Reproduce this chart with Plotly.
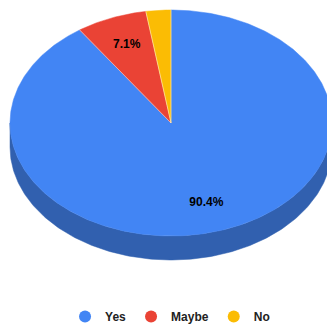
import numpy as np
import plotly.graph_objects as go

# ---- data ----
categories = ["Yes", "Maybe", "No"]
values = [90.4, 7.1, 2.5]
colors = ["#4285F4", "#EA4335", "#FBBC04"]
side_colors = ["#3160AF", "#A9302A", "#B58803"]

# ---- geometry of the 3D pie (pixel units) ----
W, H = 327, 324
cx, cy = 171, 123
rx, ry = 161, 113
depth = 24
label_k = 0.74

total = float(sum(values))
fracs = [v / total for v in values]
starts = np.cumsum([0] + fracs[:-1])

def pt(theta, dy=0.0):
    # theta in radians, clockwise from 12 o'clock
    return cx + rx * np.sin(theta), cy - ry * np.cos(theta) + dy

fig = go.Figure()

# side walls (front half only)
for i, cat in enumerate(categories):
    a1 = starts[i] * 2 * np.pi
    a2 = (starts[i] + fracs[i]) * 2 * np.pi
    lo, hi = max(a1, np.pi / 2), min(a2, 3 * np.pi / 2)
    if hi <= lo:
        continue
    th = np.linspace(lo, hi, 200)
    xt, yt = pt(th)
    xb, yb = pt(th[::-1], depth)
    xs = np.concatenate([xt, xb, xt[:1]])
    ys = np.concatenate([yt, yb, yt[:1]])
    fig.add_trace(go.Scatter(x=xs, y=ys, mode="lines", fill="toself",
                             fillcolor=side_colors[i], line=dict(width=0.5, color=side_colors[i]),
                             hoverinfo="skip", showlegend=False))

# top faces
for i, cat in enumerate(categories):
    a1 = starts[i] * 2 * np.pi
    a2 = (starts[i] + fracs[i]) * 2 * np.pi
    th = np.linspace(a1, a2, max(int(fracs[i] * 600), 8))
    xa, ya = pt(th)
    xs = np.concatenate([[cx], xa, [cx]])
    ys = np.concatenate([[cy], ya, [cy]])
    fig.add_trace(go.Scatter(x=xs, y=ys, mode="lines", fill="toself",
                             fillcolor=colors[i],
                             line=dict(width=0.5, color=colors[i]),
                             hoverinfo="skip", showlegend=False))

# light slice separators
sx, sy = [], []
for i in range(len(categories)):
    bx, by = pt(starts[i] * 2 * np.pi)
    sx += [cx, bx, None]
    sy += [cy, by, None]
fig.add_trace(go.Scatter(x=sx, y=sy, mode="lines",
                         line=dict(width=0.8, color="rgba(255,255,255,0.6)"),
                         hoverinfo="skip", showlegend=False))

# percentage labels (slices big enough)
lx, ly, lt = [], [], []
for i, cat in enumerate(categories):
    if fracs[i] < 0.05:
        continue
    mid = (starts[i] + fracs[i] / 2) * 2 * np.pi
    lx.append(cx + label_k * rx * np.sin(mid))
    ly.append(cy - label_k * ry * np.cos(mid))
    lt.append(f"{fracs[i] * 100:.1f}%")
fig.add_trace(go.Scatter(x=lx, y=ly, text=lt, mode="text",
                         textfont=dict(family="Liberation Sans, Arial", size=12,
                                       color="#000000", weight="bold"),
                         hoverinfo="skip", showlegend=False))

# legend entries
for i, cat in enumerate(categories):
    fig.add_trace(go.Scatter(x=[None], y=[None], mode="markers", name=cat,
                             marker=dict(symbol="circle", size=12, color=colors[i])))

fig.update_layout(
    width=W, height=H,
    margin=dict(l=0, r=0, t=0, b=0, autoexpand=False),
    paper_bgcolor="white", plot_bgcolor="white",
    xaxis=dict(range=[0, W], visible=False, fixedrange=True),
    yaxis=dict(range=[H, 0], visible=False, fixedrange=True),
    showlegend=True,
    legend=dict(orientation="h", x=0.52, xanchor="center",
                y=(H - 316.5) / H, yanchor="middle",
                font=dict(family="Liberation Sans, Arial", size=12,
                          color="#222222", weight="bold"),
                itemsizing="trace", bgcolor="rgba(0,0,0,0)"),
)

fig.write_html("out.html", config={"displayModeBar": False},
               post_script="document.body.style.margin='0';document.body.style.overflow='hidden';")
